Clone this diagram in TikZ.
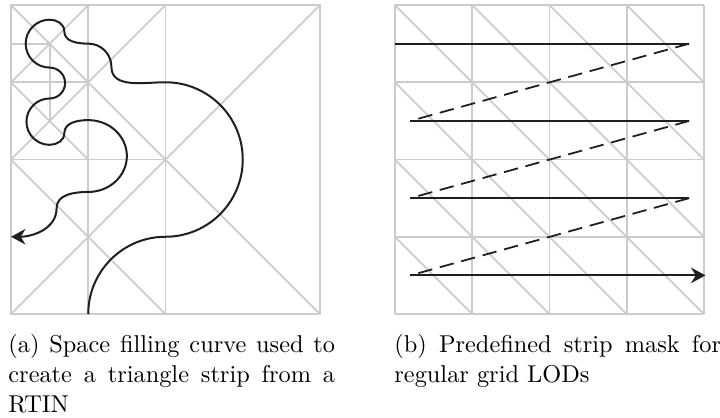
\documentclass[tikz,border=0pt]{standalone}
\usepackage{xcolor}
\usepackage{tikz}
\usetikzlibrary{arrows.meta, positioning, calc}

\begin{document}
\begin{tikzpicture}[x=34.76pt, y=34.76pt,
    gridline/.style={draw=black!20, line width=0.8pt},
    curveline/.style={draw=black!88, line width=0.9pt},
    stripline/.style={draw=black!88, line width=0.8pt},
    capbox/.style={text width=147pt, align=justify, inner sep=0pt, anchor=base west,
      font=\fontsize{10.95}{13.6}\selectfont}]
  \useasboundingbox (-0.1424,-1.346) rectangle (9.178,4.065);
  % (a) RTIN -- unit = one grid cell, square 4x4, origin bottom left
  \coordinate (a00) at (0,0);
  \coordinate (a40) at (4,0);
  \coordinate (a04) at (0,4);
  \coordinate (a44) at (4,4);
  \draw[gridline] (a00) rectangle (a44);
  \draw[gridline] (a00)--(a44); \draw[gridline] (a04)--(a40);
  \draw[gridline] (1,0)--(1,4); \draw[gridline] (2,0)--(2,4);
  \draw[gridline] (0,2)--(2,2); \draw[gridline] (0,3)--(1,3);
  \draw[gridline] (0,3.5)--(0.5,3.5); \draw[gridline] (0.5,3.5)--(0.5,2.5);
  \draw[gridline] (2,4)--(0,2); \draw[gridline] (0,2)--(2,0);
  \draw[gridline] (1,4)--(0,3); \draw[gridline] (0,3)--(1,2);
  % space filling curve
  \draw[curveline, -{Stealth[length=6.5pt,width=7pt]}] (1,0)
    arc[start angle=180, end angle=90, radius=1]
    arc[start angle=-90, end angle=90, radius=1]
    to[out=180, in=-90] (1.3,3.2) to[out=90, in=0] (1,3.5)
    to[out=180, in=-90] (0.69,3.66) to[out=90, in=0] (0.5,3.81)
    arc[start angle=90, end angle=270, radius=0.31]
    arc[start angle=90, end angle=-90, radius=0.2]
    arc[start angle=90, end angle=270, radius=0.3]
    to[out=0, in=-90] (0.69,2.34) to[out=90, in=180] (1,2.51)
    arc[start angle=90, end angle=-90, x radius=0.5, y radius=0.465]
    to[out=180, in=90] (0.59,1.37) to[out=-90, in=0] (0,1);

  % (b) regular grid -- same cell size, shifted right
  \begin{scope}[shift={(4.97,0)}]
    \foreach \i in {0,...,4} {
      \draw[gridline] (\i,0)--(\i,4);
      \draw[gridline] (0,\i)--(4,\i);
    }
    \foreach \i in {0,...,3}
      \foreach \j in {0,...,3}
        \draw[gridline] (\i,\j+1)--(\i+1,\j);
    % strip ends, one row each
    \foreach \r/\y in {0/3.5, 1/2.5, 2/1.5, 3/0.5} {
      \coordinate (sl\r) at (0.2,\y);
      \coordinate (sr\r) at (3.81,\y);
    }
    \coordinate (sl0) at (0,3.5);
    \coordinate (send) at (4.02,0.5);
    \draw[stripline] (sl0)--(sr0); \draw[stripline] (sl1)--(sr1);
    \draw[stripline] (sl2)--(sr2);
    \draw[stripline, -{Stealth[length=6.5pt,width=7pt]}] (sl3)--(send);
    \foreach \a/\b in {0/1, 1/2, 2/3}
      \draw[stripline, dash pattern=on 6.5pt off 3.5pt] (sr\a)--(sl\b);
  \end{scope}

  % captions
  \node[capbox] (capA) at (-0.039,-0.492) {(a) Space filling curve used to create a triangle strip from a RTIN};
  \node[capbox] (capB) at (4.958,-0.492) {(b) Predefined strip mask for regular grid LODs};
\end{tikzpicture}
\end{document}
